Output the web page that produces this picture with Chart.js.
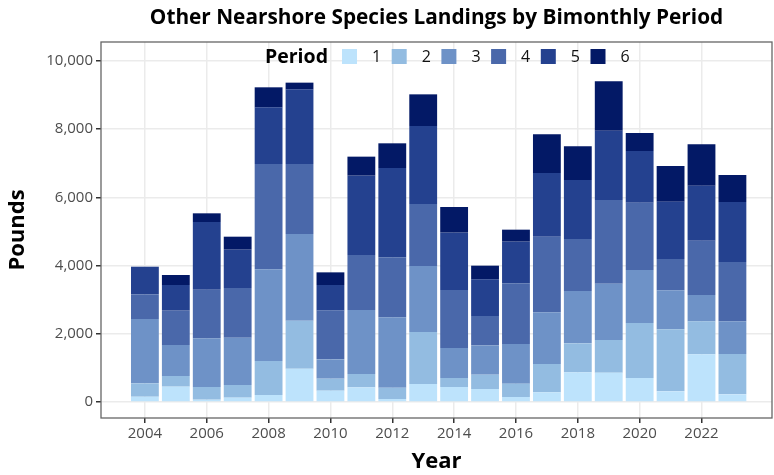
<!DOCTYPE html>
<html>
<head>
<meta charset="utf-8">
<script src="https://cdn.jsdelivr.net/npm/chart.js@4"></script>
<style>
  html, body { margin: 0; padding: 0; background: #fff; }
</style>
</head>
<body>
<canvas id="chart" width="774" height="475"></canvas>
<script>
const years = [2004, 2005, 2006, 2007, 2008, 2009, 2010, 2011, 2012, 2013,
               2014, 2015, 2016, 2017, 2018, 2019, 2020, 2021, 2022, 2023];
const periods = ['1', '2', '3', '4', '5', '6'];

// pounds landed per bimonthly period
const period1 = [155, 450, 68, 127, 205, 977, 332, 430, 88, 528, 440, 381, 147, 284, 870, 860, 704, 313, 1398, 225];
const period2 = [393, 312, 372, 371, 997, 1408, 352, 391, 332, 1525, 264, 420, 390, 830, 851, 958, 1613, 1818, 968, 1183];
const period3 = [1886, 910, 1427, 1389, 2689, 2542, 567, 1877, 2063, 1935, 880, 861, 1164, 1516, 1534, 1652, 1554, 1144, 772, 958];
const period4 = [724, 1006, 1427, 1456, 3088, 2052, 1437, 1613, 1760, 1818, 1700, 860, 1779, 2218, 1525, 2454, 1974, 919, 1593, 1740];
const period5 = [810, 753, 1985, 1124, 1662, 2191, 743, 2326, 2619, 2288, 1682, 1075, 1222, 1868, 1730, 2032, 1516, 1680, 1613, 1759];
const period6 = [0, 293, 254, 381, 587, 195, 371, 558, 724, 928, 752, 401, 352, 1134, 988, 1448, 528, 1047, 1212, 792];

const periodColors = ['#BDE3FC', '#93BCE1', '#6E92C7', '#4A68AA', '#24418F', '#031966'];
const xTicks = [2004, 2006, 2008, 2010, 2012, 2014, 2016, 2018, 2020, 2022];
const yTicks = [0, 2000, 4000, 6000, 8000, 10000];

const FONT = "'Open Sans', 'Noto Sans', sans-serif";
const allPeriods = [period1, period2, period3, period4, period5, period6];

const datasets = allPeriods.map((vals, i) => ({
  label: periods[i],
  data: years.map((yr, j) => ({ x: yr, y: vals[j] })),
  backgroundColor: periodColors[i],
  borderWidth: 0,
  barPercentage: 0.9,
  categoryPercentage: 1.0
}));

// title, panel border and inline legend
const decor = {
  id: 'decor',
  afterDraw(chart) {
    const ctx = chart.ctx;
    const a = chart.chartArea;
    ctx.save();
    ctx.strokeStyle = '#666';
    ctx.lineWidth = 1.3;
    ctx.strokeRect(a.left, a.top, a.right - a.left, a.bottom - a.top);

    ctx.fillStyle = '#000';
    ctx.font = 'bold 20.8px ' + FONT;
    ctx.textAlign = 'center';
    ctx.textBaseline = 'middle';
    ctx.fillText('Other Nearshore Species Landings by Bimonthly Period', (a.left + a.right) / 2, 18);

    ctx.textAlign = 'left';
    ctx.font = 'bold 19.5px ' + FONT;
    ctx.fillText('Period', 265, 57);
    ctx.font = '16px ' + FONT;
    periods.forEach((p, i) => {
      const x = 342 + i * 49.7;
      ctx.fillStyle = periodColors[i];
      ctx.fillRect(x, 49, 15, 15);
      ctx.fillStyle = '#111';
      ctx.fillText(p, x + 30, 57);
    });
    ctx.restore();
  }
};

new Chart(document.getElementById('chart'), {
  type: 'bar',
  data: { datasets },
  plugins: [decor],
  options: {
    responsive: false,
    animation: false,
    devicePixelRatio: 1,
    layout: { padding: { top: 42, right: 2, left: 0, bottom: 0 } },
    plugins: {
      legend: { display: false },
      title: { display: false },
      tooltip: { enabled: false }
    },
    scales: {
      x: {
        type: 'linear',
        stacked: true,
        min: 2002.58,
        max: 2024.28,
        offset: false,
        grid: { offset: false, color: '#EBEBEB', lineWidth: 1.5, tickColor: '#333', tickWidth: 1.5, tickLength: 5 },
        border: { display: false },
        afterBuildTicks: s => { s.ticks = xTicks.map(v => ({ value: v })); },
        afterFit: s => { s.height = 57; },
        ticks: {
          color: '#4D4D4D',
          font: { family: FONT, size: 15 },
          padding: 2,
          maxRotation: 0,
          callback: v => String(v)
        },
        title: {
          display: true,
          text: 'Year',
          color: '#000',
          font: { family: FONT, size: 22, weight: 'bold' },
          padding: { top: 0, bottom: 0 }
        }
      },
      y: {
        stacked: true,
        min: -469,
        max: 10557,
        grid: { color: '#EBEBEB', lineWidth: 1.5, tickColor: '#333', tickWidth: 1.5, tickLength: 5 },
        border: { display: false },
        afterBuildTicks: s => { s.ticks = yTicks.map(v => ({ value: v })); },
        afterFit: s => { s.width = 101; },
        ticks: {
          color: '#4D4D4D',
          font: { family: FONT, size: 15 },
          padding: 3,
          callback: v => v.toLocaleString('en-US')
        },
        title: {
          display: true,
          text: 'Pounds',
          color: '#000',
          font: { family: FONT, size: 22, weight: 'bold' },
          padding: { top: 5, bottom: 0 }
        }
      }
    }
  }
});
</script>
</body>
</html>
